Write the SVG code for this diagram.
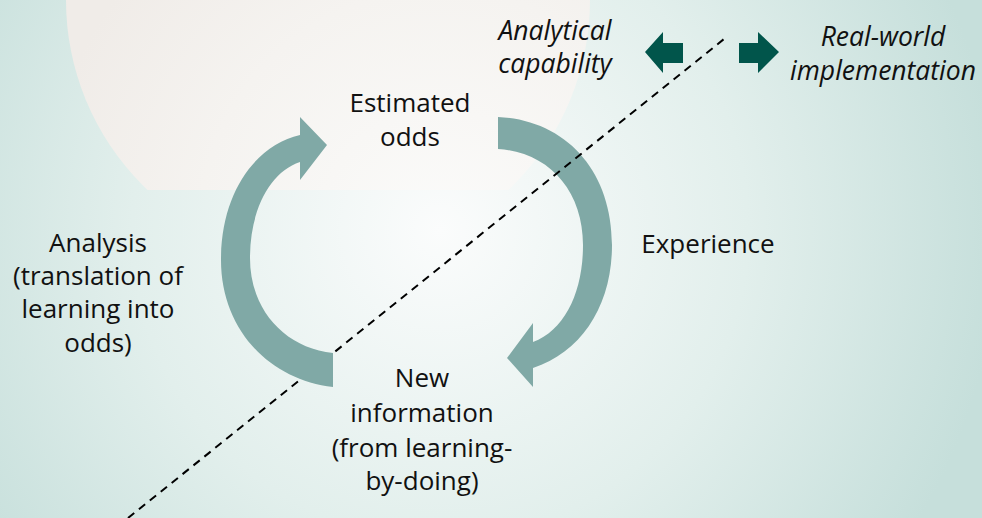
<svg xmlns="http://www.w3.org/2000/svg" width="982" height="518" viewBox="0 0 982 518">
<defs>
<radialGradient id="bg" gradientUnits="userSpaceOnUse" cx="440" cy="230" r="560">
<stop offset="0" stop-color="#fbfcfc"/>
<stop offset="0.55" stop-color="#e2efec"/>
<stop offset="1" stop-color="#c6dfdb"/>
</radialGradient>
<radialGradient id="beige" gradientUnits="userSpaceOnUse" cx="440" cy="230" r="400">
<stop offset="0" stop-color="#fbfbfa"/>
<stop offset="0.6" stop-color="#f5f3f0"/>
<stop offset="1" stop-color="#f0ece8"/>
</radialGradient>
<clipPath id="top"><rect x="0" y="0" width="982" height="190"/></clipPath>
<style>
.lbl{font-family:"Open Sans","Liberation Sans",sans-serif;font-size:26px;fill:#111;text-anchor:middle}
.it{font-style:italic;font-size:26.5px}
.cyc{fill:#80a9a6}
.dk{fill:#01554b}
.dash{stroke:#000;stroke-width:2;stroke-dasharray:8 6;fill:none}
</style>
</defs>
<rect width="982" height="518" fill="url(#bg)"/>
<circle cx="328" cy="0" r="262" fill="url(#beige)" clip-path="url(#top)"/>
<g id="arrow-experience">
<path class="cyc" d="M498,117 C565,120 612,170 612,245 C612,305 582,352 533,368 L533,387 L507,358 L533,323 L533,342 C565,330 583,292 583,245 C583,190 548,152 498,149 Z"/>
</g>
<g id="connectors">
<line class="dash" x1="128" y1="518" x2="724" y2="39"/>
</g>
<g id="arrow-analysis">
<path class="cyc" d="M333,387 C270,380 221,330 221,260 C221,192 256,145 300,135 L300,117 L327,145 L300,180 L300,162 C270,172 250,210 250,258 C250,310 285,348 333,353 Z"/>
</g>
<g id="split-arrows">
<path class="dk" d="M645,52 L663,32 L663,43 L683,43 L683,63 L663,63 L663,73 Z"/>
<path class="dk" d="M779,52 L758,32 L758,43 L739,43 L739,63 L758,63 L758,73 Z"/>
</g>
<g id="node-estimated">
<text class="lbl" x="410" y="112">Estimated</text>
<text class="lbl" x="410" y="146">odds</text>
</g>
<g id="node-analytical">
<text class="lbl it" x="555" y="40">Analytical</text>
<text class="lbl it" x="555" y="73">capability</text>
</g>
<g id="node-realworld">
<text class="lbl it" x="883" y="46">Real-world</text>
<text class="lbl it" x="883" y="80">implementation</text>
</g>
<g id="node-experience">
<text class="lbl" x="708" y="253">Experience</text>
</g>
<g id="node-analysis">
<text class="lbl" x="98" y="252">Analysis</text>
<text class="lbl" x="98" y="285">(translation of</text>
<text class="lbl" x="98" y="318">learning into</text>
<text class="lbl" x="98" y="352">odds)</text>
</g>
<g id="node-newinfo">
<text class="lbl" x="422" y="387">New</text>
<text class="lbl" x="422" y="422">information</text>
<text class="lbl" x="422" y="457">(from learning-</text>
<text class="lbl" x="422" y="490">by-doing)</text>
</g>
</svg>
